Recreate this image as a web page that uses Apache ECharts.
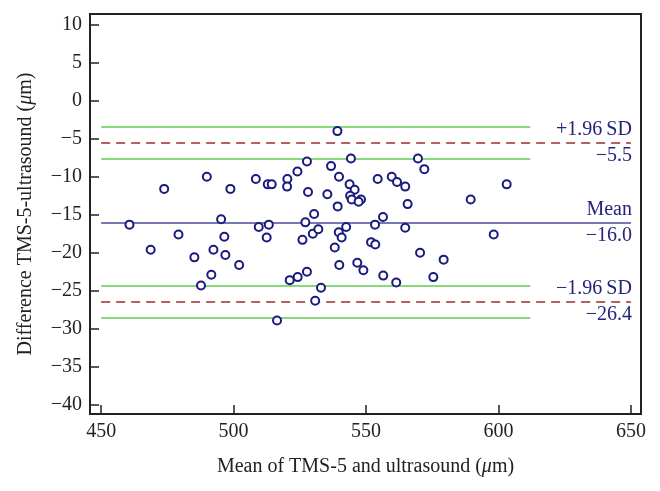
<!DOCTYPE html>
<html>
<head>
<meta charset="utf-8">
<script src="https://cdn.jsdelivr.net/npm/echarts@6/dist/echarts.min.js"></script>
<style>html,body{margin:0;padding:0;background:#fff}#c{width:660px;height:491px}</style>
</head>
<body>
<div id="c"></div>
<script>
// Mean of TMS-5 and ultrasound (µm)
const meanX = [460.7,468.7,473.8,479.2,485.2,489.9,487.7,491.6,492.4,495.3,496.5,496.9,498.8,502.1,
  508.4,512.9,514.4,520.3,520.2,524.1,527.7,528.1,509.5,513.3,512.5,527.1,530.4,526.0,529.9,532.0,
  521.2,524.2,527.7,533.0,530.8,516.4,
  539.2,544.3,536.8,539.8,543.8,545.7,535.4,544.0,544.6,548.1,547.2,539.3,554.4,556.4,553.4,542.5,
  539.7,540.8,538.2,551.9,553.5,539.9,546.7,549.0,556.5,
  569.6,572.0,559.7,561.7,564.8,565.7,564.8,570.4,579.3,575.4,561.4,
  603.1,589.5,598.2];
// Difference TMS-5 - ultrasound (µm)
const diffY = [-16.3,-19.6,-11.6,-17.6,-20.6,-10.0,-24.3,-22.9,-19.6,-15.6,-17.9,-20.3,-11.6,-21.6,
  -10.3,-11.0,-11.0,-10.3,-11.3,-9.3,-8.0,-12.0,-16.6,-16.3,-18.0,-16.0,-14.9,-18.3,-17.5,-16.9,
  -23.6,-23.2,-22.5,-24.6,-26.3,-28.9,
  -4.0,-7.6,-8.6,-10.0,-11.0,-11.7,-12.3,-12.5,-13.0,-13.0,-13.3,-13.9,-10.3,-15.3,-16.3,-16.6,
  -17.3,-18.0,-19.3,-18.6,-18.9,-21.6,-21.3,-22.3,-23.0,
  -7.6,-9.0,-10.0,-10.7,-11.3,-13.6,-16.7,-20.0,-20.9,-23.2,-23.9,
  -11.0,-13.0,-17.6];

const meanDiff = -16.0;
const upperLoA = -5.5;
const lowerLoA = -26.4;
const ciLines = [-3.4, -7.6, -24.3, -28.5];
const lineStartX = 450;
const lineEndX = 650;
const ciEndX = 612;
const xTicks = [450, 500, 550, 600, 650];
const yTicks = [-40, -35, -30, -25, -20, -15, -10, -5, 0, 5, 10];

const FONT = '"Liberation Serif", "Times New Roman", serif';
const FS = 20;
const NAVY = '#23237a';
const minus = v => String(v).replace('-', '\u2212');

const points = meanX.map((x, i) => [x, diffY[i]]);

function refLine(y, endX, style, label) {
  const start = { coord: [lineStartX, y], lineStyle: style };
  start.label = label ? label : { show: false };
  return [start, { coord: [endX, y] }];
}
const labStyle = (text, pos) => ({
  show: true, position: pos, formatter: text, color: NAVY,
  fontFamily: FONT, fontSize: FS, distance: [-1, 3]
});
const green = { color: '#5fcc4f', width: 1.5, type: 'solid' };
const red = { color: '#9e2e2e', width: 1.6, type: [9, 6] };
const blue = { color: '#4b4b9c', width: 1.5, type: 'solid' };
const hidden = { color: 'rgba(0,0,0,0)', width: 1 };

const chart = echarts.init(document.getElementById('c'), null, { renderer: 'canvas' });
chart.setOption({
  animation: false,
  backgroundColor: '#fff',
  grid: { left: 90, right: 19, top: 14, bottom: 77, show: true, borderColor: '#222', borderWidth: 2, backgroundColor: 'transparent' },
  xAxis: {
    type: 'value', min: 445.8, max: 653.8,
    name: 'Mean of TMS-5 and ultrasound ({i|\u03bc}m)',
    nameLocation: 'middle', nameGap: 43,
    nameTextStyle: { fontFamily: FONT, fontSize: FS, color: '#222',
      rich: { i: { fontStyle: 'italic', fontFamily: FONT, fontSize: FS, color: '#222' } } },
    axisLine: { show: false, onZero: false },
    axisTick: { show: true, inside: true, length: 9, customValues: xTicks, lineStyle: { color: '#222', width: 1.5 } },
    axisLabel: { customValues: xTicks, fontFamily: FONT, fontSize: FS, color: '#222', margin: 8, formatter: minus },
    splitLine: { show: false }
  },
  yAxis: {
    type: 'value', min: -41.2, max: 11.4,
    name: 'Difference TMS-5-ultrasound ({i|\u03bc}m)',
    nameLocation: 'middle', nameGap: 54,
    nameTextStyle: { fontFamily: FONT, fontSize: FS, color: '#222',
      rich: { i: { fontStyle: 'italic', fontFamily: FONT, fontSize: FS, color: '#222' } } },
    axisLine: { show: false, onZero: false },
    axisTick: { show: true, inside: true, length: 9, customValues: yTicks, lineStyle: { color: '#222', width: 1.5 } },
    axisLabel: { customValues: yTicks, fontFamily: FONT, fontSize: FS, color: '#222', margin: 8, formatter: minus },
    splitLine: { show: false }
  },
  series: [
    {
      type: 'scatter', data: [], z: 1, silent: true,
      markLine: {
        symbol: 'none', silent: true, animation: false,
        data: [
          refLine(ciLines[0], ciEndX, green),
          refLine(ciLines[1], ciEndX, green),
          refLine(ciLines[2], ciEndX, green),
          refLine(ciLines[3], ciEndX, green),
          refLine(upperLoA, lineEndX, red, labStyle('+1.96\u2009SD', 'insideEndTop')),
          refLine(upperLoA, lineEndX, hidden, labStyle(minus(upperLoA.toFixed(1)), 'insideEndBottom')),
          refLine(meanDiff, lineEndX, blue, labStyle('Mean', 'insideEndTop')),
          refLine(meanDiff, lineEndX, hidden, labStyle(minus(meanDiff.toFixed(1)), 'insideEndBottom')),
          refLine(lowerLoA, lineEndX, red, labStyle('\u22121.96\u2009SD', 'insideEndTop')),
          refLine(lowerLoA, lineEndX, hidden, labStyle(minus(lowerLoA.toFixed(1)), 'insideEndBottom'))
        ]
      }
    },
    {
      type: 'scatter', data: points, z: 5,
      symbol: 'emptyCircle', symbolSize: 8,
      itemStyle: { color: '#1a1a80', borderColor: '#1a1a80', borderWidth: 2.2, opacity: 1 }
    }
  ]
});
</script>
</body>
</html>
